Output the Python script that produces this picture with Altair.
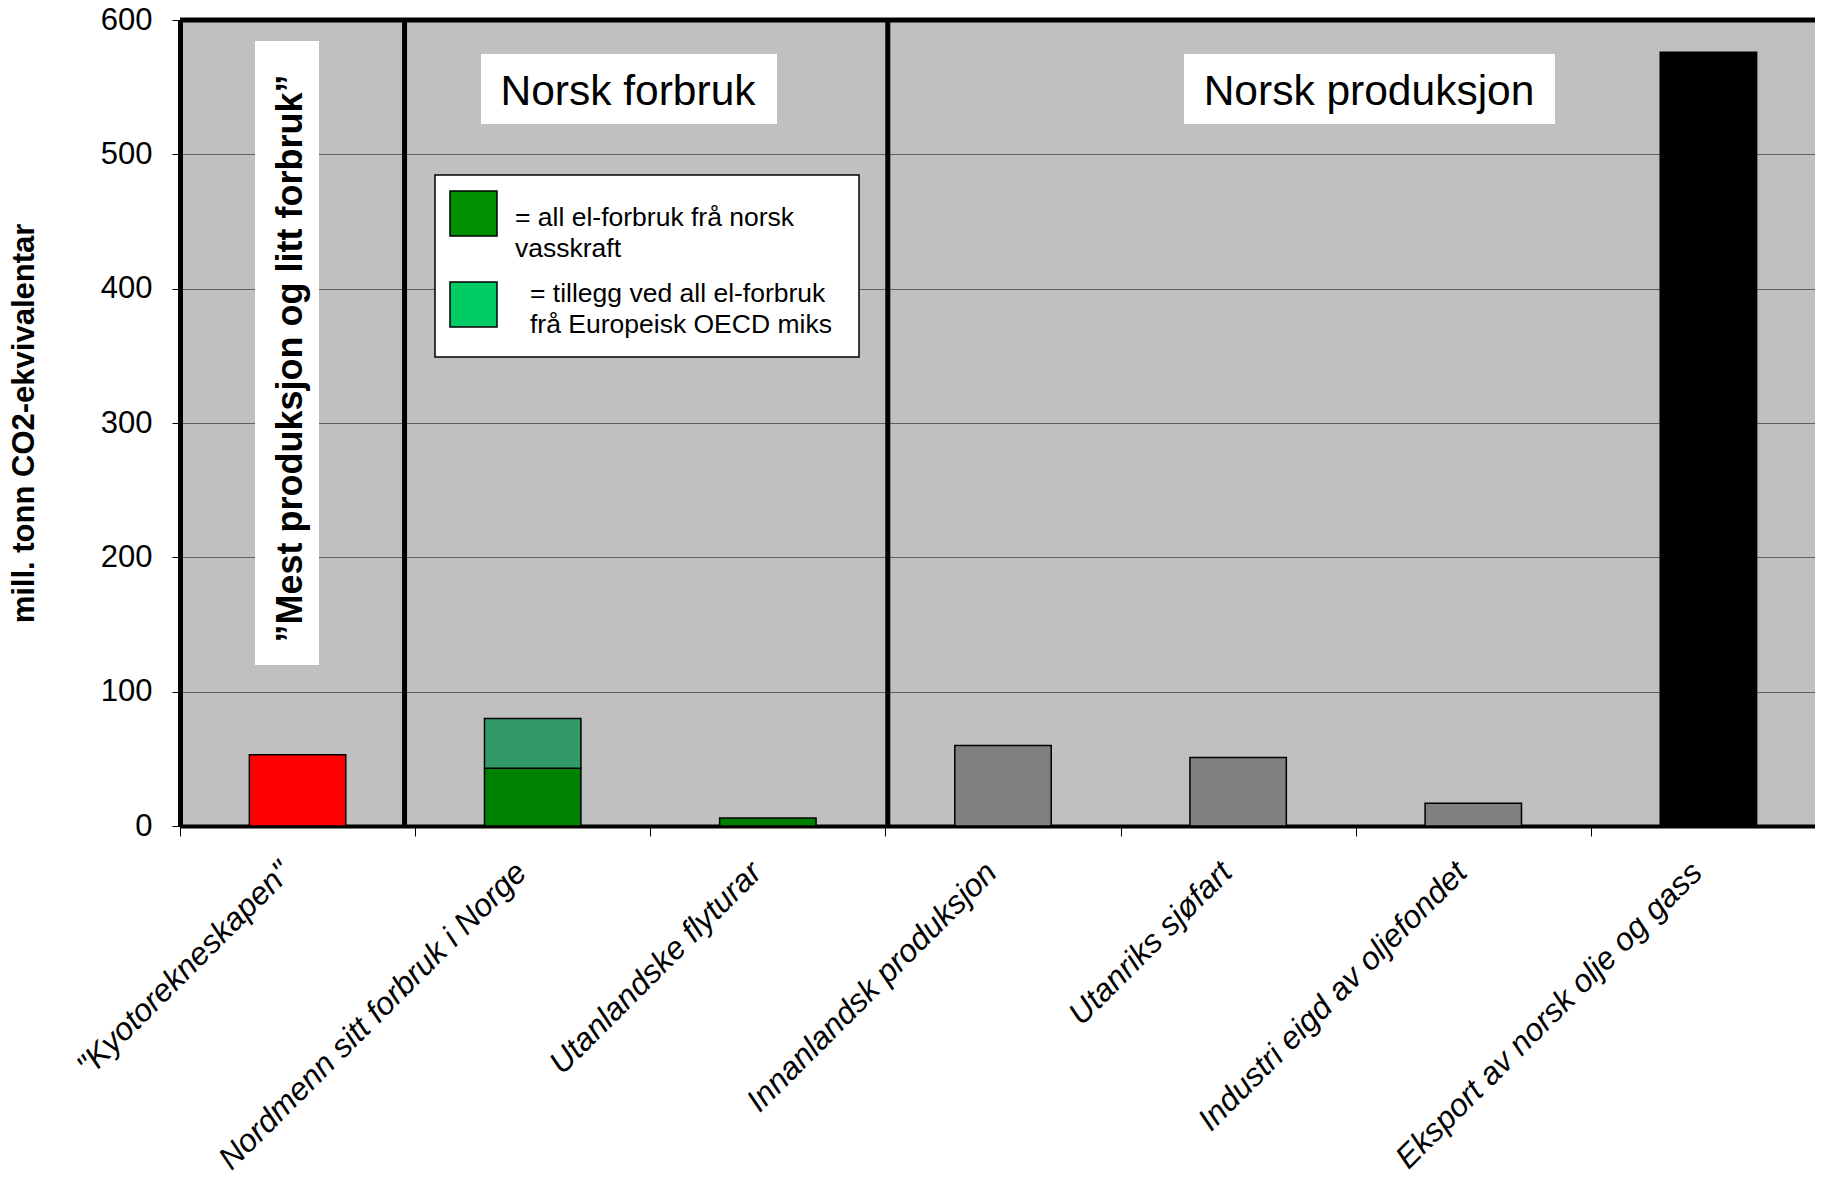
import altair as alt
import pandas as pd

# ---------------- data ----------------
categories = [
    '"Kyotorekneskapen"',
    "Nordmenn sitt forbruk i Norge",
    "Utanlandske flyturar",
    "Innanlandsk produksjon",
    "Utanriks sjøfart",
    "Industri eigd av oljefondet",
    "Eksport av norsk olje og gass",
]
base_values = [53, 43, 6, 60, 51, 17, 576]
extra_values = [0, 37, 0, 0, 0, 0, 0]
base_colors = ["#FF0000", "#008000", "#008000", "#808080", "#808080", "#808080", "#000000"]
extra_color = "#339966"
separator_positions = [0.955, 3.01]   # in category steps from the left edge
y_ticks = [0, 100, 200, 300, 400, 500, 600]
y_title = "mill. tonn CO2-ekvivalentar"
section_titles = ["Norsk forbruk", "Norsk produksjon"]
side_note = "\u201dMest produksjon og litt forbruk\u201d"
legend_items = ["= all el-forbruk frå norsk\nvasskraft", "= tillegg ved all el-forbruk\nfrå Europeisk OECD miks"]
legend_colors = ["#009000", "#00CC66"]

FONT = "Liberation Sans"
W, H = 1635, 806
RANGE = 1646
N = len(categories)
STEP = RANGE / N
P_INNER, P_OUTER = 0.59, 0.295

rows = []
for c, b, e, col in zip(categories, base_values, extra_values, base_colors):
    rows.append(dict(cat=c, y0=0, y1=b, fill=col))
    if e > 0:
        rows.append(dict(cat=c, y0=b, y1=b + e, fill=extra_color))
bars_df = pd.DataFrame(rows)

xband = alt.Scale(domain=categories, range=[0, RANGE], paddingInner=P_INNER, paddingOuter=P_OUTER)
yscale = alt.Scale(domain=[0, 600], nice=False)

tick_off = -P_OUTER * STEP  # move ticks from band start to category boundary

bars = alt.Chart(bars_df).mark_bar(stroke="black", strokeWidth=1.5).encode(
    x=alt.X(
        "cat:N",
        scale=xband,
        sort=categories,
        axis=alt.Axis(
            title=None, bandPosition=0, tickOffset=tick_off, tickSize=10, tickColor="black",
            tickWidth=1, domainColor="black", domainWidth=4, labelAngle=315, labelAlign="right",
            labelBaseline="middle", labelFont=FONT, labelFontSize=32, labelFontStyle="italic",
            labelPadding=31, labelLimit=1000, labelColor="black", labelOffset=-tick_off - 12,
            grid=False,
        ),
    ),
    y=alt.Y(
        "y0:Q",
        scale=yscale,
        axis=alt.Axis(
            values=y_ticks, tickSize=8, tickColor="black", tickWidth=1,
            domainColor="black", domainWidth=5, labelFont=FONT, labelFontSize=31,
            labelPadding=20, labelColor="black", grid=True, gridColor="#606060", gridWidth=1,
            title=y_title, titleFont=FONT, titleFontSize=31, titleFontWeight="bold",
            titleAngle=270, titleX=-147, titleY=403, titleAlign="center",
            titleBaseline="alphabetic", titleColor="black",
        ),
    ),
    y2="y1:Q",
    fill=alt.Fill("fill:N", scale=None),
)

sep_df = pd.DataFrame({"pos": separator_positions})
seps = alt.Chart(sep_df).mark_rule(color="black", strokeWidth=5).encode(
    x=alt.X("pos:Q", scale=alt.Scale(domain=[0, N], range=[0, RANGE]), axis=None),
    y=alt.datum(0),
    y2=alt.datum(600),
)

top = alt.Chart(pd.DataFrame({"v": [600]})).mark_rule(color="black", strokeWidth=5).encode(
    y=alt.Y("v:Q", scale=yscale)
)


def box(label, x0, x1, y0, y1, fill="white", stroke=None, sw=0):
    kw = dict(fill=fill)
    if stroke:
        kw.update(stroke=stroke, strokeWidth=sw)
    return alt.Chart(pd.DataFrame({"t": [label]})).mark_rect(**kw).encode(
        x=alt.value(x0), x2=alt.value(x1), y=alt.value(y0), y2=alt.value(y1)
    )


def txt(label, x, y, size, align="center", baseline="alphabetic", angle=0, weight="normal", lh=None):
    kw = dict(font=FONT, fontSize=size, align=align, baseline=baseline, fontWeight=weight, color="black")
    if angle:
        kw["angle"] = angle
    if lh:
        kw.update(lineBreak="\n", lineHeight=lh)
    return alt.Chart(pd.DataFrame({"t": [label]})).mark_text(**kw).encode(
        text="t:N", x=alt.value(x), y=alt.value(y)
    )


layers = [
    bars, seps, top,
    box(section_titles[0], 301, 597, 34, 104),
    txt(section_titles[0], 448, 85, 42.5),
    box(section_titles[1], 1004, 1375, 34, 104),
    txt(section_titles[1], 1189, 85, 42.5),
    box(side_note, 75, 139, 21, 645),
    txt(side_note, 121.5, 338.5, 36, angle=270, weight="bold"),
    box("legend", 255, 679, 155, 337, stroke="black", sw=1.5),
    box(legend_items[0], 270, 317, 171, 216, fill=legend_colors[0], stroke="black", sw=1.5),
    box(legend_items[1], 270, 317, 262, 307, fill=legend_colors[1], stroke="black", sw=1.5),
    txt(legend_items[0], 335, 205.5, 26.5, align="left", lh=31),
    txt(legend_items[1], 350, 281.5, 26.5, align="left", lh=31),
]

chart = (
    alt.layer(*layers)
    .resolve_scale(x="independent")
    .properties(
        width=W, height=H,
        padding={"left": 172, "top": 12, "right": 0, "bottom": 361},
        autosize=alt.AutoSizeParams(type="none"),
        background="white",
    )
    .configure_view(fill="#C0C0C0", stroke=None)
)

chart.save("out.html", embed_options={"renderer": "svg", "actions": False})
